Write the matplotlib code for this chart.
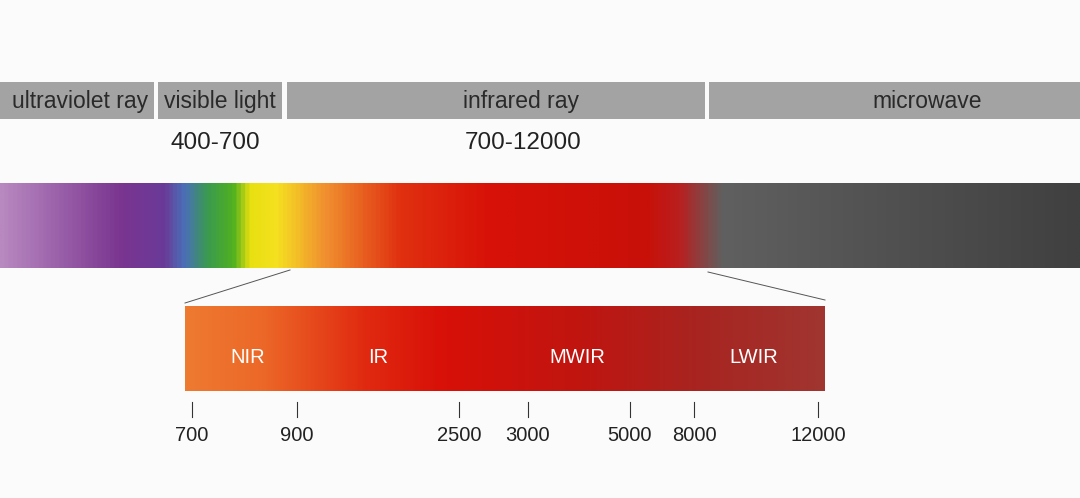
import numpy as np
import matplotlib.pyplot as plt
from matplotlib.colors import LinearSegmentedColormap

plt.rcParams['font.family'] = ['Liberation Sans', 'DejaVu Sans']

bands = ["ultraviolet ray", "visible light", "infrared ray", "microwave"]
band_ranges = ["", "400-700", "700-12000", ""]
sub_bands = ["NIR", "IR", "MWIR", "LWIR"]
tick_values = ["700", "900", "2500", "3000", "5000", "8000", "12000"]

# layout (pixel coordinates)
band_x = [(0, 154), (158, 282), (287, 705), (709, 1080)]
band_tx = [80, 220, 521, 927]
range_tx = [0, 215, 523, 0]
sub_x = [248, 378, 577, 754]
tick_x = [192, 297, 459, 528, 630, 694, 818]

fig = plt.figure(figsize=(10.8, 4.98), dpi=100)
fig.patch.set_facecolor("#fbfbfb")
ax = fig.add_axes([0, 0, 1, 1])
ax.set_xlim(0, 1080); ax.set_ylim(498, 0); ax.axis("off")

for (x0, x1), tx, rx, name, rng in zip(band_x, band_tx, range_tx, bands, band_ranges):
    ax.add_patch(plt.Rectangle((x0, 82), x1 - x0, 37, color="#a3a3a3", lw=0))
    ax.text(tx, 101, name, ha="center", va="center", fontsize=16.5, color="#2a2a2a")
    if rng:
        ax.text(rx, 143, rng, ha="center", va="center", fontsize=17.5, color="#222222")

spec = LinearSegmentedColormap.from_list("spec", [
    (0.0, "#b888c0"), (0.11, "#7a3590"), (0.15, "#6a3a98"), (0.17, "#4a70b8"),
    (0.19, "#3a9a50"), (0.215, "#50b020"), (0.23, "#e8e010"), (0.255, "#f5e020"),
    (0.30, "#f09030"), (0.37, "#e03010"), (0.45, "#d81208"), (0.6, "#c81008"),
    (0.63, "#b82020"), (0.67, "#606060"), (0.75, "#585858"), (1.0, "#404040")])
grad = np.linspace(0, 1, 1000)[None, :]
ax.imshow(grad, cmap=spec, extent=(0, 1080, 268, 183), aspect="auto", interpolation="bilinear")

ax.plot([290, 185], [270, 303], color="#555", lw=0.7)
ax.plot([708, 825], [272, 300], color="#555", lw=0.7)

sub = LinearSegmentedColormap.from_list("sub", [
    (0.0, "#ee7a30"), (0.12, "#ec6828"), (0.28, "#e02a10"), (0.4, "#d81008"),
    (0.62, "#c01510"), (0.8, "#a82420"), (1.0, "#a03530")])
ax.imshow(grad, cmap=sub, extent=(185, 825, 391, 306), aspect="auto", interpolation="bilinear")
for x, s in zip(sub_x, sub_bands):
    ax.text(x, 357, s, ha="center", va="center", fontsize=14.5, color="white")

for x, t in zip(tick_x, tick_values):
    ax.plot([x, x], [402, 417], color="#333", lw=0.8)
    ax.text(x, 435, t, ha="center", va="center", fontsize=14.5, color="#222")

fig.savefig("out.png", dpi=100, facecolor=fig.get_facecolor())
